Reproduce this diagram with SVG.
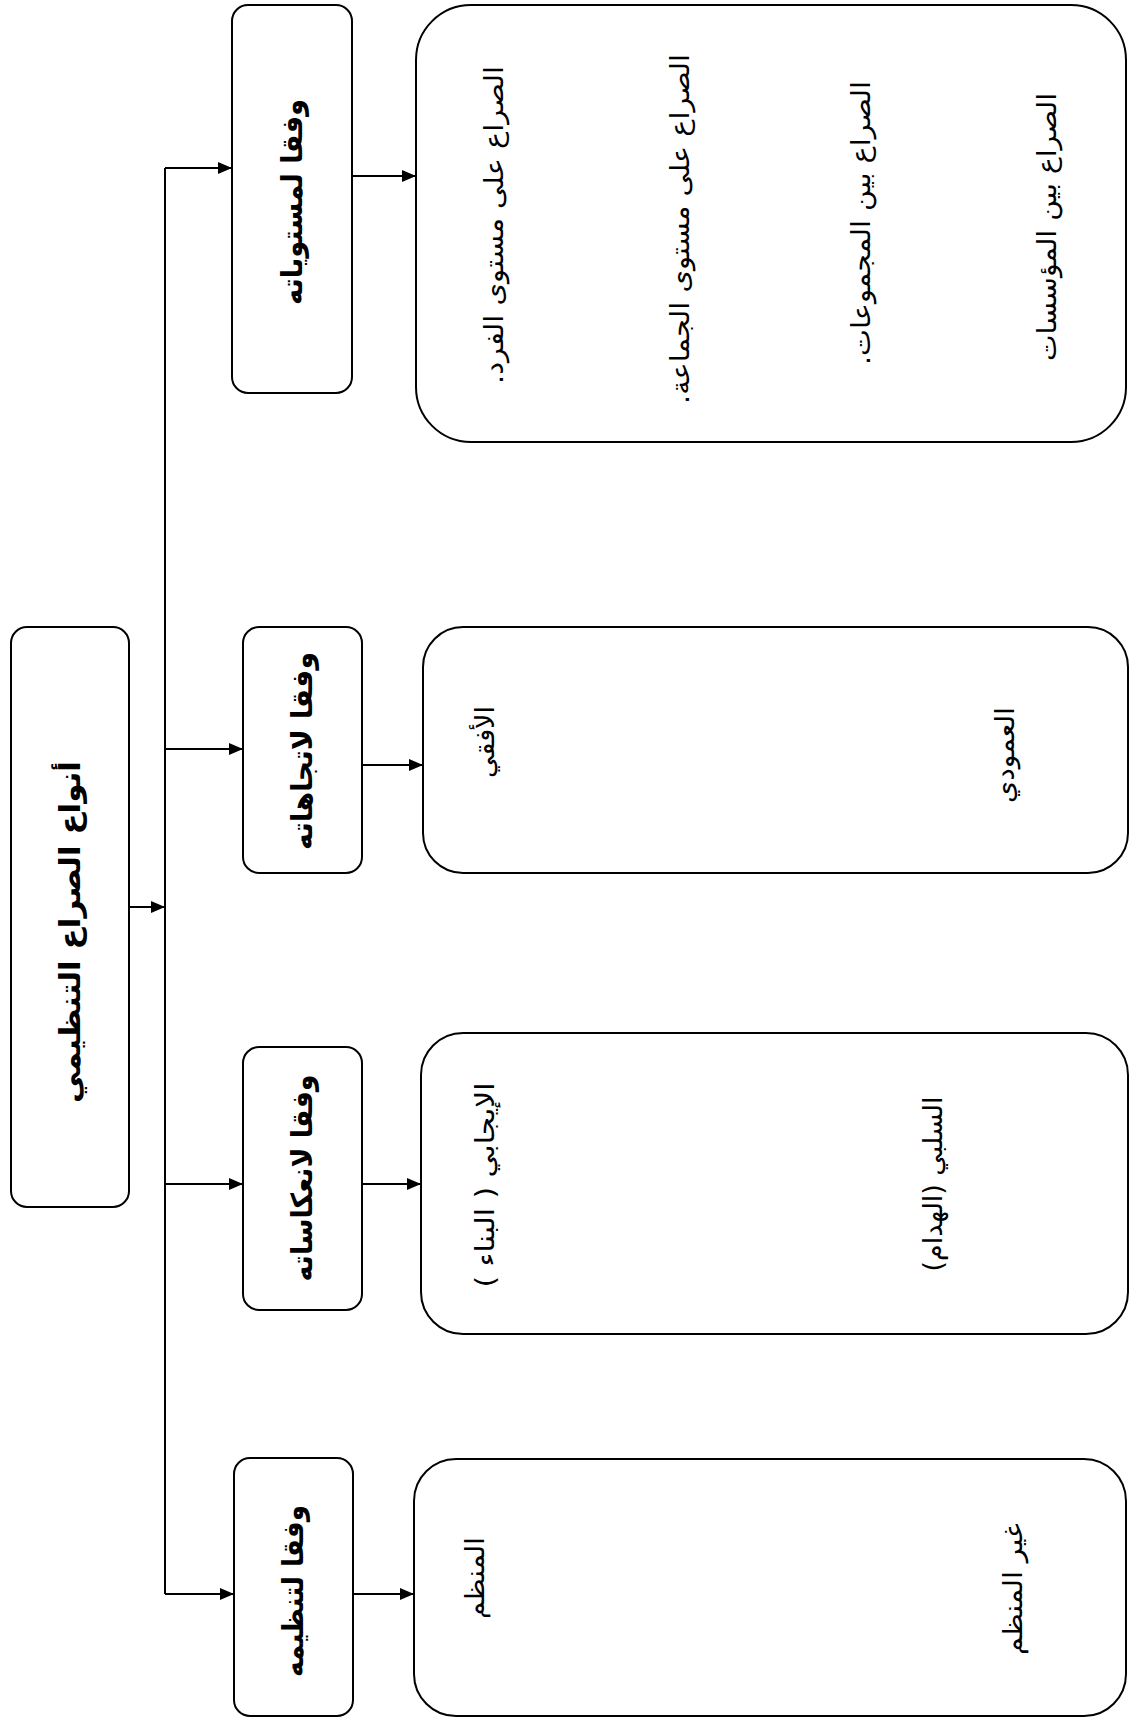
<svg xmlns="http://www.w3.org/2000/svg" width="1129" height="1717" viewBox="0 0 1129 1717">
<style>
.box{fill:#fff;stroke:#000;stroke-width:2}
.conn{fill:none;stroke:#000;stroke-width:2}
.t{font-family:"DejaVu Sans",sans-serif;direction:rtl;text-anchor:middle;dominant-baseline:central;fill:#000}
.b{font-weight:bold;font-size:29px}
.r{font-size:26px}
</style>
<defs>
<marker id="arr" markerUnits="userSpaceOnUse" markerWidth="14" markerHeight="12" refX="14" refY="6" orient="auto">
<path d="M0,0 L14,6 L0,12 z" fill="#000"/>
</marker>
</defs>
<rect width="1129" height="1717" fill="#fff"/>
<g id="connectors">
<path class="conn" d="M129,907 H165" marker-end="url(#arr)"/>
<path class="conn" d="M165,168 V1594"/>
<path class="conn" d="M165,168 H232" marker-end="url(#arr)"/>
<path class="conn" d="M165,749 H243" marker-end="url(#arr)"/>
<path class="conn" d="M165,1184 H243" marker-end="url(#arr)"/>
<path class="conn" d="M165,1594 H234" marker-end="url(#arr)"/>
<path class="conn" d="M352,176 H416" marker-end="url(#arr)"/>
<path class="conn" d="M362,765 H423" marker-end="url(#arr)"/>
<path class="conn" d="M362,1184 H421" marker-end="url(#arr)"/>
<path class="conn" d="M353,1594 H414" marker-end="url(#arr)"/>
</g>
<g id="root">
<rect class="box" x="11" y="627" width="118" height="580" rx="16"/>
<text class="t b" transform="translate(70,932) rotate(-90)" textLength="342" lengthAdjust="spacingAndGlyphs">أنواع الصراع التنظيمي</text>
</g>
<g id="levels">
<rect class="box" x="232" y="5" width="120" height="388" rx="16"/>
<text class="t b" transform="translate(292,202) rotate(-90)" textLength="206" lengthAdjust="spacingAndGlyphs">وفقا لمستوياته</text>
</g>
<g id="direction">
<rect class="box" x="243" y="627" width="119" height="246" rx="16"/>
<text class="t b" transform="translate(302,751) rotate(-90)" textLength="198" lengthAdjust="spacingAndGlyphs">وفقا لاتجاهاته</text>
</g>
<g id="reflection">
<rect class="box" x="243" y="1047" width="119" height="263" rx="16"/>
<text class="t b" transform="translate(302,1178) rotate(-90)" textLength="207" lengthAdjust="spacingAndGlyphs">وفقا لانعكاساته</text>
</g>
<g id="organization">
<rect class="box" x="234" y="1458" width="119" height="258" rx="16"/>
<text class="t b" transform="translate(293,1591) rotate(-90)" textLength="172" lengthAdjust="spacingAndGlyphs">وفقا لتنظيمه</text>
</g>
<g id="levels-list">
<rect class="box" x="416" y="5" width="710" height="437" rx="55"/>
<text class="t r" transform="translate(494,225) rotate(-90)" textLength="318" lengthAdjust="spacingAndGlyphs">الصراع على مستوى الفرد.</text>
<text class="t r" transform="translate(680,229) rotate(-90)" textLength="350" lengthAdjust="spacingAndGlyphs">الصراع على مستوى الجماعة.</text>
<text class="t r" transform="translate(861,223) rotate(-90)" textLength="284" lengthAdjust="spacingAndGlyphs">الصراع بين المجموعات.</text>
<text class="t r" transform="translate(1047,227) rotate(-90)" textLength="268" lengthAdjust="spacingAndGlyphs">الصراع بين المؤسسات</text>
</g>
<g id="direction-list">
<rect class="box" x="423" y="627" width="705" height="246" rx="40"/>
<text class="t r" transform="translate(485,742) rotate(-90)" textLength="72" lengthAdjust="spacingAndGlyphs">الأفقي</text>
<text class="t r" transform="translate(1005,755) rotate(-90)" textLength="96" lengthAdjust="spacingAndGlyphs">العمودي</text>
</g>
<g id="reflection-list">
<rect class="box" x="421" y="1033" width="707" height="301" rx="42"/>
<text class="t r" transform="translate(485,1185) rotate(-90)" textLength="205" lengthAdjust="spacingAndGlyphs">الإيجابي ( البناء )</text>
<text class="t r" transform="translate(933,1184) rotate(-90)" textLength="175" lengthAdjust="spacingAndGlyphs">السلبي (الهدام)</text>
</g>
<g id="organization-list">
<rect class="box" x="414" y="1459" width="712" height="257" rx="42"/>
<text class="t r" transform="translate(475,1578) rotate(-90)" textLength="82" lengthAdjust="spacingAndGlyphs">المنظم</text>
<text class="t r" transform="translate(1013,1589) rotate(-90)" textLength="132" lengthAdjust="spacingAndGlyphs">غير المنظم</text>
</g>
</svg>
